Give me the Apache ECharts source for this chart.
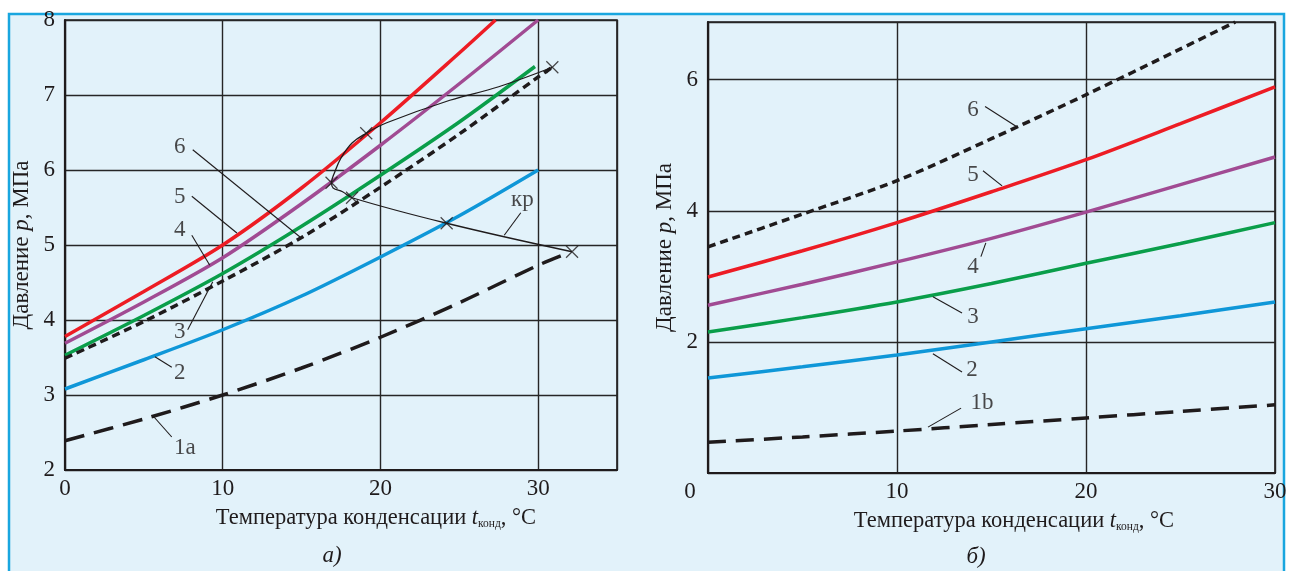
<!DOCTYPE html>
<html>
<head>
<meta charset="utf-8">
<script src="https://cdn.jsdelivr.net/npm/echarts@6.0.0/dist/echarts.min.js"></script>
<style>
html,body{margin:0;padding:0;background:#fff}
#main{width:1290px;height:571px}
</style>
</head>
<body>
<div id="main"></div>
<script>
// панель а) : давление конденсации, t = 0..35 °C
var leftCurve1a = [[0,2.39],[5,2.68],[10,3.0],[15,3.36],[20,3.77],[25,4.23],[30,4.73],[32,4.9]];
var leftCurve2  = [[0,3.08],[5,3.47],[10,3.87],[15,4.32],[20,4.84],[25,5.39],[30,6.0]];
var leftCurve3  = [[0,3.53],[5,4.06],[10,4.62],[15,5.25],[20,5.93],[25,6.64],[29.8,7.38]];
var leftCurve4  = [[0,3.69],[5,4.24],[10,4.83],[15,5.55],[20,6.33],[25,7.15],[30,8.0]];
var leftCurve5  = [[0,3.78],[5,4.38],[10,5.0],[15,5.76],[20,6.63],[25,7.56],[27.3,8.0]];
var leftCurve6  = [[0,3.49],[5,3.98],[10,4.52],[15,5.1],[20,5.77],[25,6.48],[30,7.24],[30.9,7.37]];
// линия критических точек "кр"
var krLine  = [[30.9,7.37],[27.5,7.11],[24.4,6.93],[20.4,6.63],[19.1,6.49],[18.2,6.36],[17.5,6.16],[17.1,5.97],[16.9,5.83],[17.0,5.76],[17.6,5.71],[18.2,5.63],[24.2,5.29],[32.15,4.91]];
var krMarks = [[30.9,7.37],[19.1,6.49],[16.9,5.83],[18.2,5.63],[24.2,5.29],[32.15,4.91]];
var leftLabels  = [[7.28,6.31,'6'],[7.28,5.64,'5'],[7.28,5.2,'4'],[7.28,3.84,'3'],[7.28,3.29,'2'],[7.6,2.29,'1a'],[29.0,5.6,'кр']];
var leftLeaders = [[8.1,6.27,15.0,5.09],[8.04,5.65,10.9,5.16],[8.04,5.13,9.18,4.73],[7.78,3.87,9.37,4.51],[5.7,3.51,6.77,3.37],[5.63,2.71,6.77,2.44],[28.9,5.43,27.85,5.13]];

// панель б)
var rightCurve1b = [[0,0.47],[5,0.55],[10,0.64],[15,0.74],[20,0.84],[25,0.94],[30,1.04]];
var rightCurve2  = [[0,1.45],[5,1.62],[10,1.8],[15,2.0],[20,2.2],[25,2.4],[30,2.61]];
var rightCurve3  = [[0,2.15],[5,2.37],[10,2.61],[15,2.89],[20,3.2],[25,3.5],[30,3.82]];
var rightCurve4  = [[0,2.56],[5,2.88],[10,3.22],[15,3.58],[20,3.98],[25,4.4],[30,4.82]];
var rightCurve5  = [[0,2.99],[5,3.39],[10,3.82],[15,4.29],[20,4.78],[25,5.33],[30,5.89]];
var rightCurve6  = [[0,3.45],[5,3.95],[10,4.46],[15,5.1],[20,5.77],[25,6.47],[27.9,6.88]];
var rightLabels  = [[14.02,5.54,'6'],[14.02,4.55,'5'],[14.02,3.15,'4'],[14.02,2.38,'3'],[13.97,1.57,'2'],[14.5,1.07,'1b']];
var rightLeaders = [[14.66,5.59,16.4,5.27],[14.55,4.61,15.56,4.38],[14.44,3.3,14.7,3.51],[11.9,2.69,13.44,2.44],[11.9,1.82,13.44,1.54],[11.64,0.70,13.39,0.99]];

var FONT = "'Liberation Serif','DejaVu Serif',serif";
var INK = '#1f1b1c';
var cRed = '#ED1C24', cPurple = '#A14B93', cGreen = '#0A9E4A', cBlue = '#0F97D8';

function curve(data, color, dash, gi) {
  return {
    type: 'line', data: data, xAxisIndex: gi, yAxisIndex: gi,
    symbol: 'none', smooth: 0.3, silent: true, z: 3,
    lineStyle: { color: color, width: 3.5, type: dash || 'solid', cap: 'butt' }
  };
}
function labels(arr, gi) {
  return {
    type: 'scatter', xAxisIndex: gi, yAxisIndex: gi, symbolSize: 1, silent: true, z: 5,
    itemStyle: { color: 'rgba(0,0,0,0)' },
    data: arr.map(function (d) { return { value: [d[0], d[1]], name: d[2] }; }),
    label: { show: true, position: 'inside', formatter: '{b}', fontFamily: FONT, fontSize: 23, color: INK }
  };
}
function leaders(arr, gi) {
  return {
    type: 'lines', coordinateSystem: 'cartesian2d', xAxisIndex: gi, yAxisIndex: gi, silent: true, z: 4,
    lineStyle: { color: INK, width: 1.1, opacity: 1 },
    data: arr.map(function (d) { return { coords: [[d[0], d[1]], [d[2], d[3]]] }; })
  };
}

function xAxis(gi, max, nameShift) {
  return {
    type: 'value', gridIndex: gi, min: 0, max: max, interval: 10,
    name: 'Температура конденсации {it|t}{sub|конд}, °C',
    nameLocation: 'middle', nameGap: 37,
    nameTextStyle: {
      fontFamily: FONT, fontSize: 22.5, color: INK, padding: [0, 0, 0, nameShift],
      rich: {
        it: { fontFamily: FONT, fontSize: 22.5, fontStyle: 'italic', color: INK },
        sub: { fontFamily: FONT, fontSize: 11.5, color: INK, verticalAlign: 'bottom', padding: [8, 0, 0, 0] }
      }
    },
    axisLine: { show: true, lineStyle: { color: INK, width: 2.2 } },
    axisTick: { show: false },
    splitLine: { show: true, lineStyle: { color: '#262626', width: 1.4 } },
    axisLabel: {
      margin: 7, showMaxLabel: gi === 1, hideOverlap: false,
      fontFamily: FONT, fontSize: 23, color: INK,
      formatter: function (v) { return (gi === 1 && v === 0) ? '{o|0}' : String(v); },
      rich: { o: { fontFamily: FONT, fontSize: 23, color: INK, padding: [0, 36, 0, 0] } }
    }
  };
}
function yAxis(gi, min, max, interval) {
  return {
    type: 'value', gridIndex: gi, min: min, max: max, interval: interval,
    name: 'Давление {it|p}, МПа', nameLocation: 'middle', nameGap: 32, nameRotate: 90,
    nameTextStyle: {
      fontFamily: FONT, fontSize: 23, color: INK,
      rich: { it: { fontFamily: FONT, fontSize: 23, fontStyle: 'italic', color: INK } }
    },
    axisLine: { show: true, lineStyle: { color: INK, width: 2.2 } },
    axisTick: { show: false },
    splitLine: { show: true, lineStyle: { color: '#262626', width: 1.4 } },
    axisLabel: {
      margin: 10, showMaxLabel: gi === 0, hideOverlap: false,
      fontFamily: FONT, fontSize: 23, color: INK,
      formatter: function (v) { return (gi === 1 && (v === 0 || v > 6.5)) ? '' : String(v); }
    }
  };
}

var myChart = echarts.init(document.getElementById('main'));
var option = {
  backgroundColor: '#ffffff',
  animation: false,
  graphic: [
    { type: 'rect', silent: true, z: -10, shape: { x: 9, y: 14, width: 1275, height: 570 },
      style: { fill: '#E2F2FA', stroke: '#19A6DF', lineWidth: 2.5 } },
    { type: 'text', silent: true, x: 332, y: 556,
      style: { text: 'а)', fontFamily: FONT, fontSize: 23, fontStyle: 'italic', fill: INK, align: 'center', verticalAlign: 'middle' } },
    { type: 'text', silent: true, x: 976, y: 557,
      style: { text: 'б)', fontFamily: FONT, fontSize: 23, fontStyle: 'italic', fill: INK, align: 'center', verticalAlign: 'middle' } }
  ],
  grid: [
    { left: 65, top: 20, width: 552, height: 450, show: true, borderColor: INK, borderWidth: 1.6, backgroundColor: 'transparent', outerBoundsMode: 'none', containLabel: false },
    { left: 708, top: 22, width: 567, height: 451, show: true, borderColor: INK, borderWidth: 1.6, backgroundColor: 'transparent', outerBoundsMode: 'none', containLabel: false }
  ],
  xAxis: [ xAxis(0, 35, 70), xAxis(1, 30, 45) ],
  yAxis: [ yAxis(0, 2, 8, 1), yAxis(1, 0, 6.88, 2) ],
  series: [
    curve(leftCurve1a, INK, [20, 10], 0),
    curve(leftCurve2, cBlue, null, 0),
    curve(leftCurve3, cGreen, null, 0),
    curve(leftCurve6, INK, [8, 5], 0),
    curve(leftCurve4, cPurple, null, 0),
    curve(leftCurve5, cRed, null, 0),
    {
      type: 'line', data: krLine, xAxisIndex: 0, yAxisIndex: 0, symbol: 'none', smooth: 0.4, silent: true, z: 4,
      lineStyle: { color: INK, width: 1.3 }
    },
    {
      type: 'scatter', data: krMarks, xAxisIndex: 0, yAxisIndex: 0, silent: true, z: 4,
      symbol: 'path://M0,0L10,10M10,0L0,10', symbolSize: 12,
      itemStyle: { color: 'none', borderColor: INK, borderWidth: 1.2 }
    },
    leaders(leftLeaders, 0),
    labels(leftLabels, 0),

    curve(rightCurve1b, INK, [18, 10], 1),
    curve(rightCurve2, cBlue, null, 1),
    curve(rightCurve3, cGreen, null, 1),
    curve(rightCurve4, cPurple, null, 1),
    curve(rightCurve5, cRed, null, 1),
    curve(rightCurve6, INK, [8, 5], 1),
    leaders(rightLeaders, 1),
    labels(rightLabels, 1)
  ]
};
myChart.setOption(option);
</script>
</body>
</html>
